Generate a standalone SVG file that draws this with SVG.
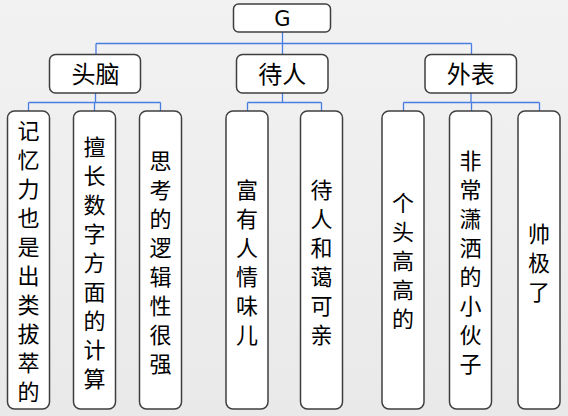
<svg xmlns="http://www.w3.org/2000/svg" width="568" height="416" viewBox="0 0 568 416">
<defs>
<linearGradient id="bg" x1="0" y1="0" x2="0" y2="1">
<stop offset="0" stop-color="#f2f2f2"/>
<stop offset="1" stop-color="#e9e9e9"/>
</linearGradient>
</defs>
<style>
.box{fill:#fff;stroke:#3f3f3f;stroke-width:1.5}
.con{fill:none;stroke:#4a7de2;stroke-width:1.3}
.t{font-family:"Noto Sans CJK SC","Noto Sans",sans-serif;fill:#000;text-anchor:middle}
.gt{font-family:"DejaVu Sans","Liberation Sans",sans-serif;fill:#000;text-anchor:middle}
.l2{font-size:24px}
.l3{font-size:22px}
</style>
<rect width="568" height="416" fill="url(#bg)"/>
<g id="connectors" class="con">
<path d="M282.5 32V43.5M96 43.5H471.5M96 43.5V54.5M282.5 43.5V54.5M471.5 43.5V54.5"/>
<path d="M95.5 93V102.5M28.5 102.5H160.5M28.5 102.5V111M94.5 102.5V111M160.5 102.5V111"/>
<path d="M282.5 93V102.5M247.5 102.5H321.5M247.5 102.5V111M321.5 102.5V111"/>
<path d="M471 93V102.5M403.5 102.5H539.5M403.5 102.5V111M471.5 102.5V111M539.5 102.5V111"/>
</g>
<g id="node-G">
<rect class="box" x="233.5" y="4" width="97" height="28" rx="5"/>
<text class="gt" x="282.5" y="26" font-size="21">G</text>
</g>
<g id="node-toupao">
<rect class="box" x="49.5" y="54.5" width="91" height="38.5" rx="6"/>
<text class="t l2" x="95.5" y="83">头脑</text>
</g>
<g id="node-dairen">
<rect class="box" x="236.5" y="54.5" width="91.5" height="38.5" rx="6"/>
<text class="t l2" x="282.3" y="83">待人</text>
</g>
<g id="node-waibiao">
<rect class="box" x="425" y="54.5" width="91.5" height="38.5" rx="6"/>
<text class="t l2" x="470.8" y="83">外表</text>
</g>
<g id="node-a1">
<rect class="box" x="7.5" y="111" width="42" height="298" rx="7"/>
<text class="t l3" x="28.5" y="138.5"><tspan x="28.5">记</tspan><tspan x="28.5" dy="29">忆</tspan><tspan x="28.5" dy="29">力</tspan><tspan x="28.5" dy="29">也</tspan><tspan x="28.5" dy="29">是</tspan><tspan x="28.5" dy="29">出</tspan><tspan x="28.5" dy="29">类</tspan><tspan x="28.5" dy="29">拔</tspan><tspan x="28.5" dy="29">萃</tspan><tspan x="28.5" dy="29">的</tspan></text>
</g>
<g id="node-a2">
<rect class="box" x="73.5" y="111" width="42" height="298" rx="7"/>
<text class="t l3" x="94.5" y="155"><tspan x="94.5">擅</tspan><tspan x="94.5" dy="29">长</tspan><tspan x="94.5" dy="29">数</tspan><tspan x="94.5" dy="29">字</tspan><tspan x="94.5" dy="29">方</tspan><tspan x="94.5" dy="29">面</tspan><tspan x="94.5" dy="29">的</tspan><tspan x="94.5" dy="29">计</tspan><tspan x="94.5" dy="29">算</tspan></text>
</g>
<g id="node-a3">
<rect class="box" x="139.5" y="111" width="42" height="298" rx="7"/>
<text class="t l3" x="160.5" y="168.5"><tspan x="160.5">思</tspan><tspan x="160.5" dy="29">考</tspan><tspan x="160.5" dy="29">的</tspan><tspan x="160.5" dy="29">逻</tspan><tspan x="160.5" dy="29">辑</tspan><tspan x="160.5" dy="29">性</tspan><tspan x="160.5" dy="29">很</tspan><tspan x="160.5" dy="29">强</tspan></text>
</g>
<g id="node-b1">
<rect class="box" x="226" y="111" width="42" height="298" rx="7"/>
<text class="t l3" x="247" y="197.5"><tspan x="247">富</tspan><tspan x="247" dy="29">有</tspan><tspan x="247" dy="29">人</tspan><tspan x="247" dy="29">情</tspan><tspan x="247" dy="29">味</tspan><tspan x="247" dy="29">儿</tspan></text>
</g>
<g id="node-b2">
<rect class="box" x="300.5" y="111" width="42" height="298" rx="7"/>
<text class="t l3" x="321.5" y="197.5"><tspan x="321.5">待</tspan><tspan x="321.5" dy="29">人</tspan><tspan x="321.5" dy="29">和</tspan><tspan x="321.5" dy="29">蔼</tspan><tspan x="321.5" dy="29">可</tspan><tspan x="321.5" dy="29">亲</tspan></text>
</g>
<g id="node-c1">
<rect class="box" x="382" y="111" width="42" height="298" rx="7"/>
<text class="t l3" x="403" y="211"><tspan x="403">个</tspan><tspan x="403" dy="29">头</tspan><tspan x="403" dy="29">高</tspan><tspan x="403" dy="29">高</tspan><tspan x="403" dy="29">的</tspan></text>
</g>
<g id="node-c2">
<rect class="box" x="449.5" y="111" width="42" height="298" rx="7"/>
<text class="t l3" x="470.5" y="168.5"><tspan x="470.5">非</tspan><tspan x="470.5" dy="29">常</tspan><tspan x="470.5" dy="29">潇</tspan><tspan x="470.5" dy="29">洒</tspan><tspan x="470.5" dy="29">的</tspan><tspan x="470.5" dy="29">小</tspan><tspan x="470.5" dy="29">伙</tspan><tspan x="470.5" dy="29">子</tspan></text>
</g>
<g id="node-c3">
<rect class="box" x="518" y="111" width="42" height="298" rx="7"/>
<text class="t l3" x="539" y="241.5"><tspan x="539">帅</tspan><tspan x="539" dy="29">极</tspan><tspan x="539" dy="29">了</tspan></text>
</g>
</svg>
